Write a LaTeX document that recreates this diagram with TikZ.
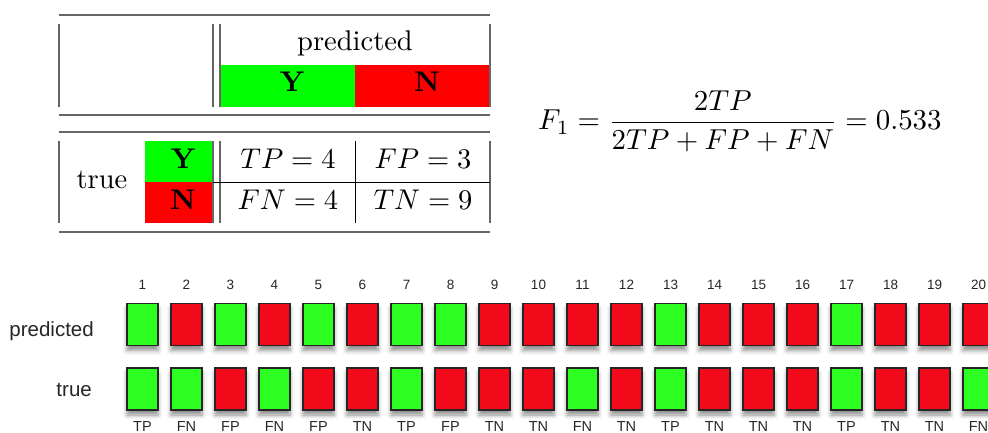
\documentclass[tikz,border=0pt]{standalone}
\usepackage{graphicx}
\usepackage{fontspec}
\newfontfamily\arialf{Liberation Sans}
\usetikzlibrary{shadows.blur}
\definecolor{tgreen}{RGB}{0,255,0}
\definecolor{tred}{RGB}{255,0,0}
\definecolor{cG}{RGB}{46,255,34}
\definecolor{cR}{RGB}{242,10,26}
\newcommand{\bigt}[1]{\scalebox{2.85}{\fontsize{10}{12}\selectfont #1}}
\begin{document}
\begin{tikzpicture}[x=1pt,y=-1pt,
  hrule/.style={draw=black!60, line width=1.3pt},
  vline/.style={draw=black!60, line width=1.1pt},
  grid/.style={draw=black, line width=0.9pt},
  tab/.style={inner sep=0pt, anchor=base},
  box/.style={draw=black!85, line width=1.1pt, minimum width=31pt, minimum height=42pt,
    inner sep=0pt, outer sep=0pt,
    blur shadow={shadow xshift=0pt, shadow yshift=-5pt, shadow blur radius=4.5pt, shadow opacity=45}},
  num/.style={inner sep=0pt, anchor=base, text=black!85, font=\arialf\fontsize{13.5}{15}\selectfont},
  lab/.style={inner sep=0pt, anchor=base, text=black!85, font=\arialf\fontsize{14.5}{16}\selectfont},
  rowlab/.style={inner sep=0pt, anchor=base east, text=black!85, font=\arialf\fontsize{20.5}{24}\selectfont}
]
\useasboundingbox (0,0) rectangle (988,433);

% ---- confusion table ----
\fill[tgreen] (220,65) rectangle (355,107);
\fill[tred] (355,65) rectangle (490,107);
\fill[tgreen] (145,141) rectangle (213,182);
\fill[tred] (145,182) rectangle (213,223);

\draw[hrule] (59,15) -- (490,15);
\draw[hrule] (59,115) -- (490,115);
\draw[hrule] (59,132) -- (490,132);
\draw[hrule] (59,232) -- (490,232);

\foreach \x in {59,213,220,490} {
  \draw[vline] (\x,24) -- (\x,107);
  \draw[vline] (\x,141) -- (\x,223);
}
\draw[grid] (355,141) -- (355,223);
\draw[grid] (213,182) -- (490,182);

\node[tab] (hpred) at (355,51) {\bigt{predicted}};
\node[tab] (hY) at (292,92) {\bigt{\textbf{Y}}};
\node[tab] (hN) at (427,92) {\bigt{\textbf{N}}};
\node[tab] (htrue) at (102,189) {\bigt{true}};
\node[tab] (vY) at (183,168) {\bigt{\textbf{Y}}};
\node[tab] (vN) at (183,209) {\bigt{\textbf{N}}};
\node[tab] (tp) at (288,168) {\bigt{$TP=4$}};
\node[tab] (fp) at (423,168) {\bigt{$FP=3$}};
\node[tab] (fn) at (288,209) {\bigt{$FN=4$}};
\node[tab] (tn) at (423,209) {\bigt{$TN=9$}};

% ---- formula ----
\node[inner sep=0pt, anchor=base west] (f1) at (538,130)
  {\scalebox{2.885}{\fontsize{10}{12}\selectfont $F_1=\displaystyle\frac{2TP}{2TP+FP+FN}=0.533$}};

% ---- boxes ----
\node[rowlab] (rpred) at (94,336) {predicted};
\node[rowlab] (rtrue) at (92,396) {true};

\foreach \i/\p/\t/\l in {1/G/G/TP, 2/R/G/FN, 3/G/R/FP, 4/R/G/FN, 5/G/R/FP,
  6/R/R/TN, 7/G/G/TP, 8/G/R/FP, 9/R/R/TN, 10/R/R/TN, 11/R/G/FN, 12/R/R/TN,
  13/G/G/TP, 14/R/R/TN, 15/R/R/TN, 16/R/R/TN, 17/G/G/TP, 18/R/R/TN, 19/R/R/TN, 20/R/G/FN} {
  \pgfmathsetmacro{\cx}{142.5+44*(\i-1)}
  \node[num] (n\i) at (\cx,289) {\i};
  \node[box, fill=c\p] (p\i) at (\cx,324.5) {};
  \node[box, fill=c\t] (t\i) at (\cx,389) {};
  \node[lab] (l\i) at (\cx,431) {\l};
}
\end{tikzpicture}
\end{document}
